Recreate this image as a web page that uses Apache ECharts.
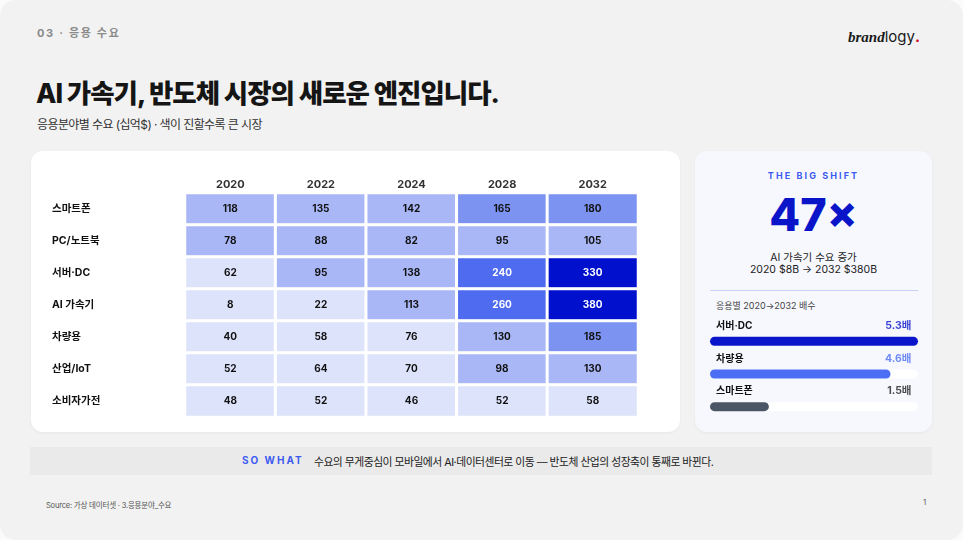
<!DOCTYPE html>
<html>
<head>
<meta charset="utf-8">
<script src="https://cdn.jsdelivr.net/npm/echarts@6/dist/echarts.min.js"></script>
<style>
  html, body { margin: 0; padding: 0; background: #fbfbfb; }
  body { width: 963px; height: 540px; overflow: hidden; position: relative;
         font-family: "Inter", "Noto Sans CJK KR", sans-serif; }
  .slide { position: absolute; left: 0; top: 0; width: 963px; height: 540px;
           border-radius: 16px; background: #f2f2f2; }
  .t { position: absolute; white-space: nowrap; }
  .card { position: absolute; border-radius: 12px; }
  #chart { position: absolute; left: 0; top: 0; width: 963px; height: 540px; }
</style>
</head>
<body>
<div class="slide"></div>

<!-- header -->
<div class="t" style="left:37px;top:24px;font-size:11px;font-weight:700;letter-spacing:1.7px;color:#8a8a8a;">03 · 응용 수요</div>
<div class="t" style="left:848px;top:27px;font-size:15px;color:#1a1a1a;">
  <span style="font-family:'Liberation Serif',serif;font-weight:700;font-style:italic;">brand</span><span style="font-family:Inter,sans-serif;">logy</span><span style="color:#d0021b;font-weight:700;">.</span>
</div>
<div class="t" style="left:36px;top:72px;font-size:26.5px;font-weight:800;letter-spacing:-1px;color:#151515;">AI 가속기, 반도체 시장의 새로운 엔진입니다.</div>
<div class="t" style="left:37px;top:115px;font-size:12px;letter-spacing:-0.6px;color:#333;">응용분야별 수요 (십억$) · 색이 진할수록 큰 시장</div>

<!-- cards -->
<div class="card" style="left:31px;top:151px;width:649px;height:281px;background:#fff;box-shadow:0 1px 3px rgba(0,0,0,0.05);"></div>
<div class="card" style="left:695px;top:151px;width:237px;height:281px;background:#f7f8fe;box-shadow:0 1px 3px rgba(0,0,0,0.05);"></div>

<!-- right card texts -->
<div class="t" style="left:695px;width:237px;text-align:center;top:170px;font-size:9px;font-weight:700;letter-spacing:2.1px;color:#3d5af1;">THE BIG SHIFT</div>
<div class="t" style="left:695px;width:237px;text-align:center;top:186px;font-size:45px;line-height:58px;font-weight:800;color:#0a14c8;">47×</div>
<div class="t" style="left:695px;width:237px;text-align:center;top:249px;font-size:10.5px;color:#222;">AI 가속기 수요 증가</div>
<div class="t" style="left:695px;width:237px;text-align:center;top:263px;font-size:10.5px;color:#222;">2020 $8B → 2032 $380B</div>
<div style="position:absolute;left:710px;top:290px;width:208px;height:1px;background:#c7d0f7;"></div>
<div class="t" style="left:716px;top:299px;font-size:9px;color:#444;">응용별 2020→2032 배수</div>

<!-- so what band -->
<div style="position:absolute;left:30px;top:447px;width:902px;height:28px;background:#eaeaea;"></div>
<div class="t" style="left:242px;top:454px;font-size:10px;font-weight:700;letter-spacing:2px;color:#3d5af1;">SO WHAT</div>
<div class="t" style="left:314px;top:453px;font-size:10.8px;letter-spacing:-0.5px;color:#222;">수요의 무게중심이 모바일에서 AI·데이터센터로 이동 — 반도체 산업의 성장축이 통째로 바뀐다.</div>

<!-- footer -->
<div class="t" style="left:46px;top:499px;font-size:7.5px;letter-spacing:-0.2px;color:#555;">Source: 가상 데이터셋 · 3.응용분야_수요</div>
<div class="t" style="left:923px;top:497px;font-size:8px;color:#666;">1</div>

<div id="chart"></div>

<script>
// 연도 / 응용분야
const years = ['2020', '2022', '2024', '2028', '2032'];
const sectors = ['스마트폰', 'PC/노트북', '서버·DC', 'AI 가속기', '차량용', '산업/IoT', '소비자가전'];

// 응용분야별 수요 (십억$), 행 = sectors 순서, 열 = years 순서
const smartphone = [118, 135, 142, 165, 180];
const pc = [78, 88, 82, 95, 105];
const serverDc = [62, 95, 138, 240, 330];
const aiAccel = [8, 22, 113, 260, 380];
const auto = [40, 58, 76, 130, 185];
const iot = [52, 64, 70, 98, 130];
const consumer = [48, 52, 46, 52, 58];
const demand = [smartphone, pc, serverDc, aiAccel, auto, iot, consumer];

// 2020→2032 배수
const shiftNames = ['서버·DC', '차량용', '스마트폰'];
const shiftValues = [5.3, 4.6, 1.5];
const shiftColors = ['#0a14c8', '#4c6ef5', '#4a5565'];
const shiftTextColors = ['#0a14c8', '#4c6ef5', '#222'];

const chart = echarts.init(document.getElementById('chart'));

// heatmap 데이터 [x, y, value]
const heatData = [];
demand.forEach(function (row, yi) {
  row.forEach(function (v, xi) {
    heatData.push({
      value: [xi, yi, v],
      label: { color: v >= 200 ? '#fff' : '#111' }
    });
  });
});

const shiftMax = Math.max.apply(null, shiftValues);

const option = {
  backgroundColor: 'transparent',
  textStyle: { fontFamily: 'Inter, "Noto Sans CJK KR", sans-serif' },
  animation: false,
  grid: [
    { left: 185, top: 193, width: 453, height: 224 },
    { left: 710, top: 325, width: 208, height: 98 }
  ],
  xAxis: [
    {
      type: 'category', data: years, position: 'top', gridIndex: 0,
      axisLine: { show: false }, axisTick: { show: false }, splitLine: { show: false },
      axisLabel: { fontSize: 11, fontWeight: 'bold', color: '#333', margin: 3 }
    },
    { type: 'value', gridIndex: 1, min: 0, max: shiftMax, show: false }
  ],
  yAxis: [
    {
      type: 'category', data: sectors, inverse: true, gridIndex: 0,
      axisLine: { show: false }, axisTick: { show: false }, splitLine: { show: false },
      axisLabel: { fontSize: 10.5, fontWeight: 'bold', color: '#111', align: 'left', margin: 133 }
    },
    { type: 'category', data: shiftNames, inverse: true, gridIndex: 1, show: false }
  ],
  visualMap: {
    type: 'piecewise', show: false, seriesIndex: 0, dimension: 2,
    pieces: [
      { lt: 77, color: '#dde3fa' },
      { gte: 77, lt: 150, color: '#a9b7f6' },
      { gte: 150, lt: 200, color: '#7d93f1' },
      { gte: 200, lt: 300, color: '#4f6cf0' },
      { gte: 300, color: '#0010cc' }
    ]
  },
  series: [
    {
      type: 'heatmap', xAxisIndex: 0, yAxisIndex: 0,
      data: heatData,
      itemStyle: { borderColor: '#fff', borderWidth: 3 },
      label: { show: true, fontSize: 10, fontWeight: 'bold',
               formatter: function (p) { return p.value[2]; } },
      emphasis: { disabled: true }
    },
    {
      type: 'bar', xAxisIndex: 1, yAxisIndex: 1, barWidth: 9,
      data: shiftValues.map(function (v, i) {
        return { value: v, itemStyle: { color: shiftColors[i] } };
      }),
      itemStyle: { borderRadius: 4.5 },
      showBackground: true,
      backgroundStyle: { color: '#ffffff', borderRadius: 4.5 },
      label: {
        show: true, position: [6, -11], verticalAlign: 'middle', align: 'left',
        fontSize: 10, fontWeight: 'bold', color: '#111',
        formatter: function (p) { return shiftNames[p.dataIndex]; }
      }
    },
    {
      type: 'scatter', xAxisIndex: 1, yAxisIndex: 1, symbolSize: 1,
      itemStyle: { color: 'transparent' },
      data: shiftValues.map(function (v, i) {
        return {
          value: [shiftMax, shiftNames[i]],
          label: { color: shiftTextColors[i] }
        };
      }),
      label: {
        show: true, position: [-6, -15], align: 'right', verticalAlign: 'middle',
        fontSize: 10.5, fontWeight: 'bold',
        formatter: function (p) { return shiftValues[p.dataIndex] + '배'; }
      }
    }
  ]
};

chart.setOption(option);
window.addEventListener('resize', function () { chart.resize(); });
</script>
</body>
</html>
